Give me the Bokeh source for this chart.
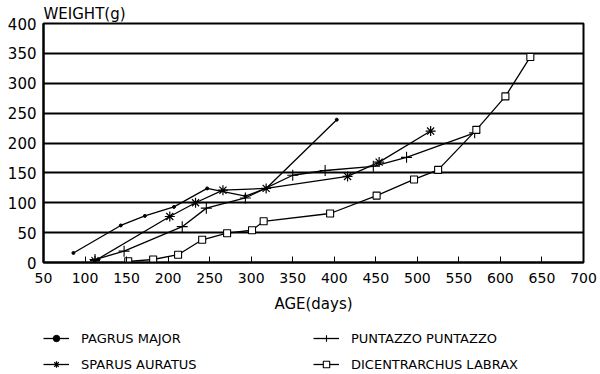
from bokeh.plotting import figure
from bokeh.models import Range1d, FixedTicker, Legend, LegendItem
from bokeh.layouts import column
from bokeh.embed import file_html
from bokeh.resources import INLINE

# ---- data ----
pagrus_age = [86, 143, 172, 207, 247, 293, 318, 403]
pagrus_w = [16, 62, 78, 93, 124, 111, 124, 239]

sparus_age = [112, 202, 233, 266, 318, 416, 454, 516]
sparus_w = [3, 77, 100, 121, 124, 144, 168, 220]

puntazzo_age = [112, 147, 217, 246, 293, 350, 389, 447, 487, 569]
puntazzo_w = [5, 19, 60, 91, 108, 146, 154, 161, 176, 217]

dicent_age = [152, 182, 212, 241, 271, 301, 315, 395, 451, 496, 525, 571, 606, 636]
dicent_w = [2, 5, 13, 38, 49, 54, 69, 82, 112, 139, 155, 222, 278, 344]

x_ticks = [50, 100, 150, 200, 250, 300, 350, 400, 450, 500, 550, 600, 650, 700]
y_ticks = [0, 50, 100, 150, 200, 250, 300, 350, 400]

series_names = ["PAGRUS MAJOR", "SPARUS AURATUS", "PUNTAZZO PUNTAZZO", "DICENTRARCHUS LABRAX"]

FONT = "DejaVu Sans"
LW = 1.3

p = figure(width=600, height=318, output_backend="svg", toolbar_location=None,
           x_range=Range1d(50, 700), y_range=Range1d(0, 400),
           min_border_left=43, min_border_right=17, min_border_top=23,
           min_border_bottom=56)
p.frame_align = False
p.background_fill_color = "white"
p.border_fill_color = "white"
p.outline_line_color = "black"
p.outline_line_width = 2

p.title.text = "WEIGHT(g)"
p.title.text_font = FONT
p.title.text_font_size = "15px"
p.title.text_font_style = "normal"
p.title.text_color = "black"
p.title.align = "left"
p.title.standoff = 2

p.xgrid.visible = False
p.ygrid.grid_line_color = "black"
p.ygrid.grid_line_width = 2
p.ygrid.ticker = FixedTicker(ticks=y_ticks)

xa = p.xaxis[0]
xa.ticker = FixedTicker(ticks=x_ticks)
xa.major_tick_in = 6
xa.major_tick_out = 0
xa.minor_tick_line_color = None
xa.axis_line_width = 2
xa.major_tick_line_width = 1
xa.major_label_text_font = FONT
xa.major_label_text_font_size = "14px"
xa.major_label_text_color = "black"
xa.major_label_standoff = 10
xa.axis_label = "AGE(days)"
xa.axis_label_text_font = FONT
xa.axis_label_text_font_size = "15px"
xa.axis_label_text_font_style = "normal"
xa.axis_label_text_color = "black"
xa.axis_label_standoff = 9

ya = p.yaxis[0]
ya.ticker = FixedTicker(ticks=y_ticks)
ya.major_tick_in = 0
ya.major_tick_out = 0
ya.minor_tick_line_color = None
ya.axis_line_width = 2
ya.major_label_text_font = FONT
ya.major_label_text_font_size = "15px"
ya.major_label_text_color = "black"
ya.major_label_standoff = 7


def draw_series(fig, xs, ys, idx):
    ln = fig.line(xs, ys, line_color="black", line_width=LW)
    if idx == 0:
        mk = fig.scatter(xs, ys, marker="circle", size=3, color="black")
    elif idx == 1:
        mk = fig.scatter(xs, ys, marker="asterisk", size=10, line_color="black", line_width=1.2)
    elif idx == 2:
        mk = fig.scatter(xs, ys, marker="cross", size=11, line_color="black", line_width=1.1)
    else:
        mk = fig.scatter(xs, ys, marker="square", size=7, line_color="black",
                         fill_color="white", line_width=1.1)
    return [ln, mk]


all_series = [(pagrus_age, pagrus_w), (sparus_age, sparus_w),
              (puntazzo_age, puntazzo_w), (dicent_age, dicent_w)]
for i, (xs, ys) in enumerate(all_series):
    draw_series(p, xs, ys, i)

# ---- legend strip below the chart (its series lie outside its view) ----
q = figure(width=600, height=56, output_backend="svg", toolbar_location=None,
           min_border=0, x_range=Range1d(-2, -1), y_range=Range1d(-2, -1))
q.frame_align = False
q.axis.visible = False
q.grid.visible = False
q.outline_line_color = None
q.background_fill_color = "white"
q.border_fill_color = "white"

legend_renderers = [draw_series(q, xs, ys, i) for i, (xs, ys) in enumerate(all_series)]


def make_legend(items, x, y):
    return Legend(items=items, location=(x, y), orientation="vertical",
                  glyph_width=26, glyph_height=16, label_height=16,
                  spacing=10, padding=0, margin=0, label_standoff=12,
                  label_text_font=FONT, label_text_font_size="13px",
                  label_text_color="black", border_line_color=None,
                  background_fill_alpha=0)


leg1 = make_legend([LegendItem(label=series_names[0], renderers=legend_renderers[0]),
                    LegendItem(label=series_names[1], renderers=legend_renderers[1])], 43, 2)
leg2 = make_legend([LegendItem(label=series_names[2], renderers=legend_renderers[2]),
                    LegendItem(label=series_names[3], renderers=legend_renderers[3])], 313, 2)
q.add_layout(leg1)
q.add_layout(leg2)

layout = column(p, q, spacing=0)
open("out.html", "w").write(file_html(layout, INLINE))
